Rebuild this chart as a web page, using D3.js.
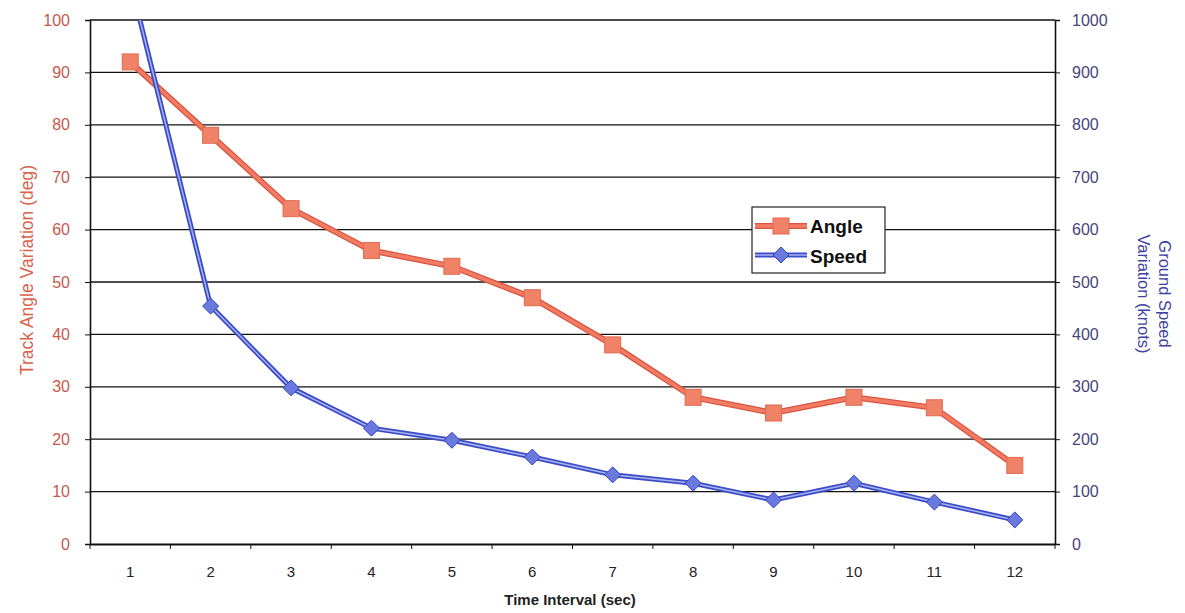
<!DOCTYPE html>
<html><head><meta charset="utf-8">
<script src="https://cdn.jsdelivr.net/npm/d3@7"></script>
<style>body{margin:0;background:#fff;font-family:Arial,"Liberation Sans",sans-serif}</style>
</head><body><svg id="c" width="1185" height="613"></svg>
<script>
const categories = ["1","2","3","4","5","6","7","8","9","10","11","12"];
const angleValues = [92,78,64,56,53,47,38,28,25,28,26,15];
const speedValues = [1075,454,298,221,198,166,132,116,84,116,80,46];
const leftTicks = [0,10,20,30,40,50,60,70,80,90,100];
const rightTicks = [0,100,200,300,400,500,600,700,800,900,1000];

const svg = d3.select("#c");
const m = {l:90, r:1055, t:20, b:544};
const x = d3.scaleBand().domain(categories).range([m.l, m.r]);
const yL = d3.scaleLinear().domain([0,100]).range([m.b, m.t]);
const yR = d3.scaleLinear().domain([0,1000]).range([m.b, m.t]);

svg.append("defs").append("clipPath").attr("id","clip")
  .append("rect").attr("x",m.l).attr("y",m.t).attr("width",m.r-m.l).attr("height",m.b-m.t);

// gridlines
svg.append("g").selectAll("line").data(leftTicks.slice(1)).join("line")
  .attr("x1",m.l).attr("x2",m.r).attr("y1",d=>yL(d)).attr("y2",d=>yL(d))
  .attr("stroke","#111").attr("stroke-width",1.3);

// axes
const gl = svg.append("g").attr("transform",`translate(${m.l},0)`)
  .call(d3.axisLeft(yL).tickValues(leftTicks).tickSize(5).tickPadding(15));
gl.selectAll("text").attr("fill","#c8584a").attr("font-size",16);
const gr = svg.append("g").attr("transform",`translate(${m.r},0)`)
  .call(d3.axisRight(yR).tickValues(rightTicks).tickFormat(d3.format("d")).tickSize(5).tickPadding(12));
gr.selectAll("text").attr("fill","#45457a").attr("font-size",16);
const gb = svg.append("g").attr("transform",`translate(0,${m.b})`)
  .call(d3.axisBottom(x).tickSize(0).tickPadding(22));
gb.selectAll("text").attr("fill","#222").attr("font-size",15);
svg.append("g").selectAll("line").data(categories.concat(["end"])).join("line")
  .attr("x1",(d,i)=>m.l+i*x.step()).attr("x2",(d,i)=>m.l+i*x.step())
  .attr("y1",m.b).attr("y2",m.b+5).attr("stroke","#111");
[gl,gr,gb].forEach(g=>{g.select(".domain").attr("stroke","#111").attr("stroke-width",1.6);g.selectAll(".tick line").attr("stroke","#111");});
gb.select(".domain").attr("stroke-width",2);

// titles
svg.append("text").attr("x",570).attr("y",605).attr("text-anchor","middle")
  .attr("font-size",15).attr("font-weight","bold").attr("fill","#222").text("Time Interval (sec)");
svg.append("text").attr("transform",`translate(33,270) rotate(-90)`)
  .attr("text-anchor","middle").attr("font-size",17.5).attr("fill","#d8624c").text("Track Angle Variation (deg)");
const rt = svg.append("text").attr("transform",`translate(1154,294) rotate(90)`)
  .attr("text-anchor","middle").attr("font-size",16.5).attr("fill","#3d42a0");
rt.append("tspan").attr("x",0).attr("dy",-5).text("Ground Speed");
rt.append("tspan").attr("x",0).attr("dy",21).text("Variation (knots)");

const cx = d=>x(d)+x.bandwidth()/2;
const plot = svg.append("g").attr("clip-path","url(#clip)");

const angleData = categories.map((c,i)=>({c,v:angleValues[i]}));
const speedData = categories.map((c,i)=>({c,v:speedValues[i]}));
const lineA = d3.line().x(d=>cx(d.c)).y(d=>yL(d.v));
const lineS = d3.line().x(d=>cx(d.c)).y(d=>yR(d.v));

plot.append("path").datum(angleData).attr("d",lineA).attr("fill","none").attr("stroke","#d9533f").attr("stroke-width",6);
plot.append("path").datum(angleData).attr("d",lineA).attr("fill","none").attr("stroke","#f27c63").attr("stroke-width",3.5);
plot.append("path").datum(speedData).attr("d",lineS).attr("fill","none").attr("stroke","#3b4cc8").attr("stroke-width",5);
plot.append("path").datum(speedData).attr("d",lineS).attr("fill","none").attr("stroke","#a8b2f0").attr("stroke-width",1.5);

plot.selectAll(".sq").data(angleData).join("rect")
  .attr("x",d=>cx(d.c)-8).attr("y",d=>yL(d.v)-8).attr("width",16).attr("height",16)
  .attr("fill","#f08367").attr("stroke","#e06a50").attr("stroke-width",1);
const dia = "M0,-8L8,0L0,8L-8,0Z";
plot.selectAll(".dm").data(speedData).join("path")
  .attr("transform",d=>`translate(${cx(d.c)},${yR(d.v)})`).attr("d",dia)
  .attr("fill","#6a79dd").attr("stroke","#3344bb").attr("stroke-width",1);

// legend
const lg = svg.append("g").attr("transform","translate(752,207)");
lg.append("rect").attr("width",133).attr("height",66).attr("fill","#fff").attr("stroke","#222").attr("stroke-width",1.2);
lg.append("line").attr("x1",3).attr("x2",55).attr("y1",19).attr("y2",19).attr("stroke","#d9533f").attr("stroke-width",6);
lg.append("line").attr("x1",3).attr("x2",55).attr("y1",19).attr("y2",19).attr("stroke","#f27c63").attr("stroke-width",3.5);
lg.append("rect").attr("x",21).attr("y",11).attr("width",16).attr("height",16).attr("fill","#f08367").attr("stroke","#e06a50");
lg.append("line").attr("x1",3).attr("x2",55).attr("y1",48).attr("y2",48).attr("stroke","#3b4cc8").attr("stroke-width",5);
lg.append("line").attr("x1",3).attr("x2",55).attr("y1",48).attr("y2",48).attr("stroke","#a8b2f0").attr("stroke-width",1.5);
lg.append("path").attr("transform","translate(29,48)").attr("d",dia).attr("fill","#6a79dd").attr("stroke","#3344bb");
lg.append("text").attr("x",58).attr("y",26).attr("font-size",19).attr("font-weight","bold").attr("fill","#111").text("Angle");
lg.append("text").attr("x",58).attr("y",56).attr("font-size",19).attr("font-weight","bold").attr("fill","#111").text("Speed");
</script></body></html>
